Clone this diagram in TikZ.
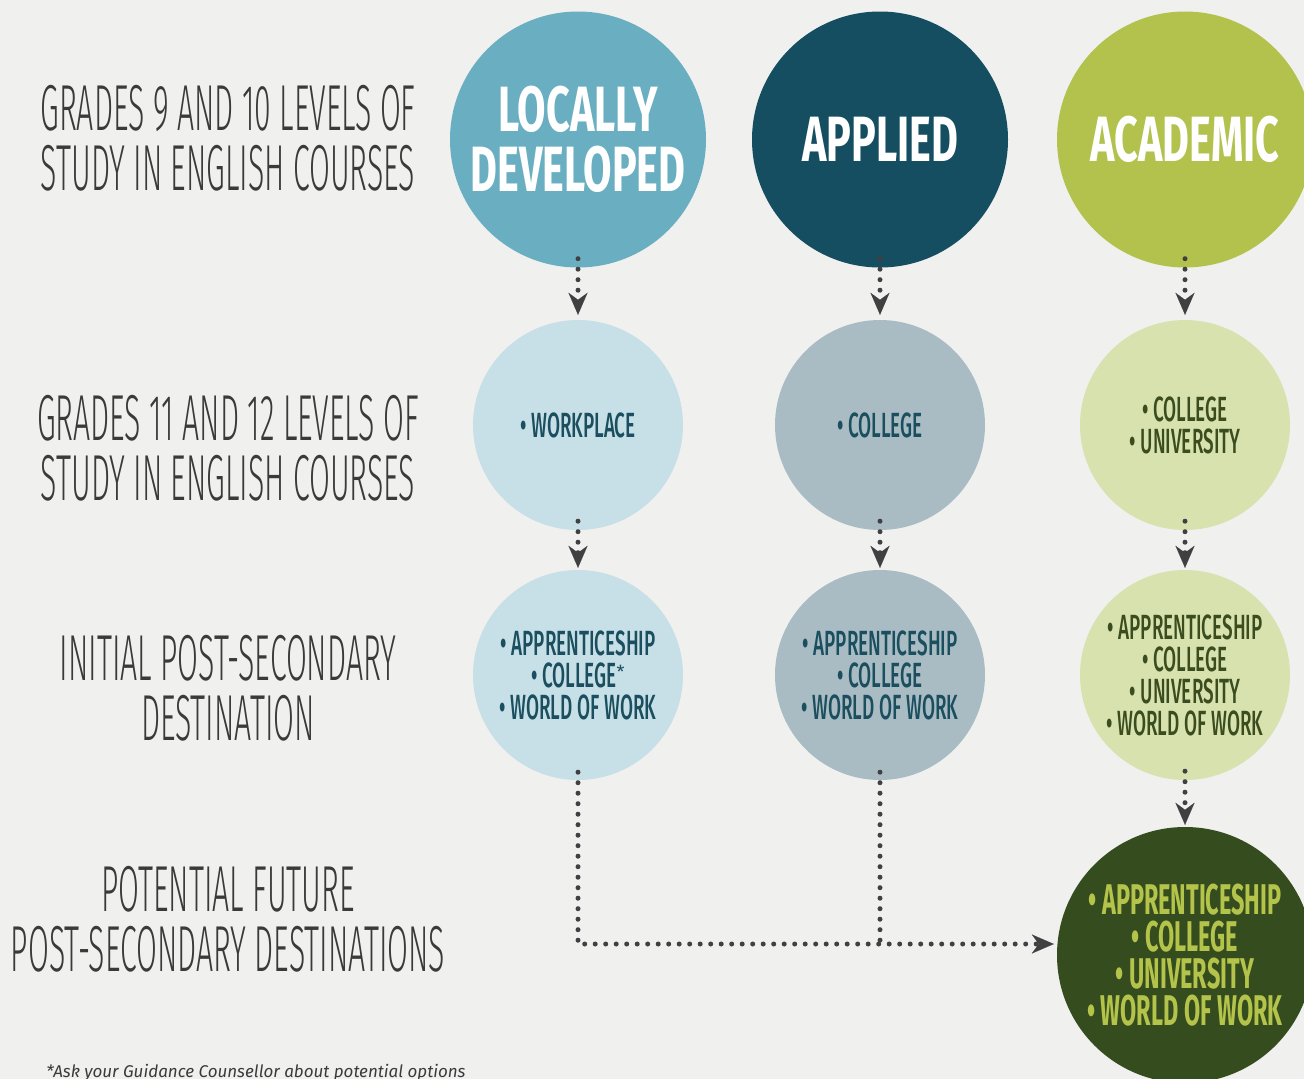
\documentclass[tikz,border=0pt]{standalone}
\usepackage{fontspec}
\usetikzlibrary{arrows.meta}
\setmainfont{Fira Sans}
\newfontfamily\cond[FakeStretch=0.645]{Fira Sans}
\newfontfamily\condb[FakeStretch=0.545]{Fira Sans}
\newfontfamily\condm[FakeStretch=0.54]{Fira Sans Medium}
\newfontfamily\hand[FakeStretch=0.465]{Fira Sans Light}
\definecolor{bg}{HTML}{F0F0EF}
\definecolor{cLD}{HTML}{6AAFC1}
\definecolor{cAP}{HTML}{154E61}
\definecolor{cAC}{HTML}{B3C24D}
\definecolor{cLDl}{HTML}{C7DFE6}
\definecolor{cAPl}{HTML}{AABCC3}
\definecolor{cACl}{HTML}{D8E2AE}
\definecolor{cBot}{HTML}{354C1E}
\definecolor{tBlue}{HTML}{1B4E5E}
\definecolor{tGreen}{HTML}{3B4D1F}
\definecolor{tLime}{HTML}{B4C34A}
\definecolor{cArr}{HTML}{404042}
\definecolor{cHand}{HTML}{3A3A3A}
\tikzset{
  big/.style={circle, inner sep=0pt, minimum size=256pt, align=center, text=white,
    font=\cond\bfseries\fontsize{64}{60}\selectfont},
  mid/.style={circle, inner sep=0pt, minimum size=210pt, align=center,
    font=\condm\fontsize{35}{32}\selectfont},
  bot/.style={circle, inner sep=0pt, minimum size=256pt, align=center, text=tLime,
    font=\condb\bfseries\fontsize{43}{37}\selectfont},
  lab/.style={align=center, text=cHand, font=\hand\fontsize{65}{60}\selectfont},
  conn/.style={draw=cArr, line width=5pt, line cap=round, dash pattern=on 0pt off 10.5pt,
    -{Stealth[length=22pt,width=19pt,inset=7pt,line width=0.01pt]}},
  connplain/.style={draw=cArr, line width=5pt, line cap=round, dash pattern=on 0pt off 10.5pt},
}
\begin{document}
\begin{tikzpicture}[x=1pt,y=-1pt]
\fill[bg] (0,0) rectangle (1304,1079);
\useasboundingbox (0,0) rectangle (1304,1079);
% top row
\node[big, fill=cLD] (ld) at (578,139.5) {LOCALLY\\DEVELOPED};
\node[big, fill=cAP] (ap) at (880,139.5) {APPLIED};
\node[big, fill=cAC] (ac) at (1185,139.5) {ACADEMIC};
% middle row
\node[mid, fill=cLDl, text=tBlue] (ld2) at (578,425) {• WORKPLACE};
\node[mid, fill=cAPl, text=tBlue] (ap2) at (880,425) {• COLLEGE};
\node[mid, fill=cACl, text=tGreen] (ac2) at (1185,425) {• COLLEGE\\• UNIVERSITY};
% third row
\node[mid, fill=cLDl, text=tBlue] (ld3) at (578,675) {• APPRENTICESHIP\\• COLLEGE\textsuperscript{\normalfont\fontsize{18}{18}\selectfont *}\\• WORLD OF WORK};
\node[mid, fill=cAPl, text=tBlue] (ap3) at (880,675) {• APPRENTICESHIP\\• COLLEGE\\• WORLD OF WORK};
\node[mid, fill=cACl, text=tGreen] (ac3) at (1185,675) {• APPRENTICESHIP\\• COLLEGE\\• UNIVERSITY\\• WORLD OF WORK};
% bottom
\node[bot, fill=cBot] (bt) at (1185,955) {• APPRENTICESHIP\\• COLLEGE\\• UNIVERSITY\\• WORLD OF WORK};
% left labels
\node[lab] (l1) at (228,138) {GRADES 9 AND 10 LEVELS OF\\STUDY IN ENGLISH COURSES};
\node[lab] (l2) at (228,448) {GRADES 11 AND 12 LEVELS OF\\STUDY IN ENGLISH COURSES};
\node[lab] (l3) at (228,688) {INITIAL POST-SECONDARY\\DESTINATION};
\node[lab] (l4) at (228,919) {POTENTIAL FUTURE\\POST-SECONDARY DESTINATIONS};
% footnote
\node[anchor=base, text=cHand, font=\itshape\fontsize{17}{17}\selectfont] (fn) at (256,1077) {*Ask your Guidance Counsellor about potential options};
% connectors
\draw[conn] ([yshift=9pt]ld.south) -- ([yshift=5pt]ld2.north);
\draw[conn] ([yshift=9pt]ap.south) -- ([yshift=5pt]ap2.north);
\draw[conn] ([yshift=9pt]ac.south) -- ([yshift=5pt]ac2.north);
\draw[conn] ([yshift=9pt]ld2.south) -- ([yshift=2pt]ld3.north);
\draw[conn] ([yshift=9pt]ap2.south) -- ([yshift=2pt]ap3.north);
\draw[conn] ([yshift=9pt]ac2.south) -- ([yshift=2pt]ac3.north);
\draw[conn] ([yshift=9pt]ac3.south) -- ([yshift=2pt]bt.north);
\coordinate (botin) at ([xshift=-3pt,yshift=11pt]bt.west);
\draw[conn] ([yshift=8pt]ld3.south) |- (botin);
\draw[connplain] ([yshift=8pt]ap3.south) -- (ap3.south |- botin);
\end{tikzpicture}
\end{document}
